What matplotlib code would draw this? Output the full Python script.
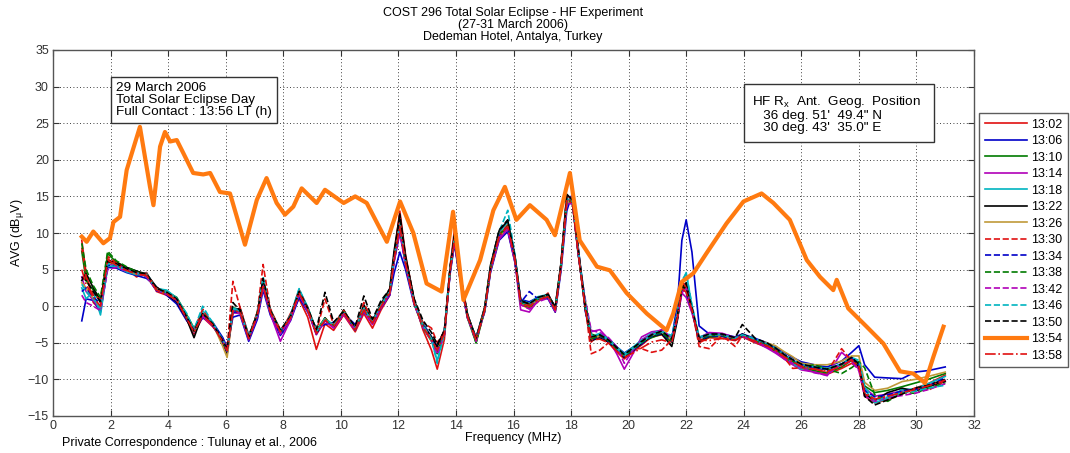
import numpy as np
import matplotlib
matplotlib.use("Agg")
import matplotlib.pyplot as plt

plt.rcParams['font.family'] = ['Liberation Sans', 'DejaVu Sans']
plt.rcParams['mathtext.fontset'] = 'custom'
plt.rcParams['mathtext.rm'] = 'Liberation Sans'
plt.rcParams['mathtext.it'] = 'Liberation Sans'

# ---------------- data ----------------
FREQ = [1.0, 1.15, 1.4, 1.65, 1.9, 2.2, 2.55, 2.9, 3.25, 3.6,
        3.95, 4.3, 4.65, 4.9, 5.2, 5.55, 5.9, 6.05, 6.25, 6.5,
        6.8, 7.1, 7.3, 7.55, 7.9, 8.25, 8.55, 8.85, 9.15, 9.45,
        9.75, 10.1, 10.5, 10.8, 11.1, 11.4, 11.7, 11.85, 12.05, 12.25,
        12.55, 12.85, 13.15, 13.35, 13.6, 13.8, 13.95, 14.1, 14.4, 14.7,
        15.0, 15.2, 15.5, 15.8, 16.05, 16.25, 16.55, 16.85, 17.2, 17.45,
        17.65, 17.85, 18.05, 18.25, 18.5, 18.7, 19.0, 19.3, 19.6, 19.85,
        20.15, 20.45, 20.8, 21.15, 21.5, 21.7, 21.85, 22.0, 22.2, 22.45,
        22.8, 23.25, 23.7, 23.95, 24.4, 24.8, 25.1, 25.4, 25.7, 26.0,
        26.45, 26.9, 27.4, 27.75, 28.0, 28.2, 28.55, 29.0, 29.5, 29.95,
        30.4, 31.0]

AVG_1302 = [9.0, 4.5, 0.5, -0.5, 6.5, 5.5, 5.2, 4.0, 4.6, 2.0,
            1.5, 0.5, -1.9, -3.8, -1.5, -2.8, -4.5, -6.5, -1.0, -0.2,
            -4.0, -1.6, 3.5, -0.3, -3.9, -1.0, 1.0, -1.5, -5.9, -2.4,
            -3.3, -1.2, -3.5, -1.0, -3.0, -0.5, 1.5, 6.8, 13.0, 7.0,
            0.8, -3.2, -6.0, -8.6, -4.5, 5.5, 10.5, 5.5, -1.0, -4.8,
            -0.2, 5.0, 9.5, 10.5, 6.2, 0.2, -0.3, 0.6, 1.8, -0.8,
            5.8, 15.0, 14.8, 7.8, -0.2, -4.9, -3.8, -5.0, -6.3, -7.2,
            -6.2, -5.3, -4.2, -3.9, -4.9, -1.5, 2.8, 2.2, -0.6, -5.0,
            -4.3, -4.4, -4.7, -4.2, -5.0, -5.6, -6.2, -7.2, -7.9, -8.5,
            -9.0, -9.3, -8.5, -7.8, -8.5, -12.3, -13.2, -12.8, -12.0, -11.2,
            -10.6, -9.4]
AVG_1306 = [-2.0, 1.0, 0.8, -0.8, 5.3, 5.2, 4.6, 4.2, 3.8, 2.6,
            1.5, 0.3, -2.0, -3.2, -1.6, -2.2, -4.3, -5.6, -1.5, -1.2,
            -4.8, -1.8, 2.2, -1.2, -4.0, -2.0, 1.2, -0.8, -3.0, -2.5,
            -2.2, -1.0, -2.5, -0.8, -1.8, -0.2, 1.5, 4.5, 7.4, 5.0,
            0.2, -2.3, -4.2, -5.5, -3.3, 4.5, 8.5, 4.6, -1.6, -4.2,
            -0.8, 4.6, 9.0, 10.2, 6.0, 0.9, 0.6, 1.2, 1.0, -0.8,
            4.8, 13.0, 15.5, 8.0, -0.8, -4.2, -4.3, -4.4, -5.6, -6.4,
            -5.6, -5.2, -3.8, -3.4, -4.4, 0.5, 9.0, 11.8, 7.4, -2.7,
            -3.8, -3.8, -4.2, -3.8, -4.4, -5.0, -5.6, -6.3, -7.0, -7.6,
            -8.0, -8.3, -7.5, -6.3, -5.4, -8.0, -9.7, -9.8, -9.9, -9.0,
            -8.8, -8.3]
AVG_1310 = [7.5, 3.5, 2.2, 0.5, 7.2, 6.0, 5.3, 4.8, 4.0, 2.5,
            2.0, 1.2, -1.2, -3.0, -1.3, -2.3, -5.0, -6.2, -0.2, -0.5,
            -4.5, -0.8, 3.2, -0.5, -3.2, -1.8, 2.0, -0.2, -3.3, -1.6,
            -2.9, -0.6, -3.3, -0.5, -2.4, 0.3, 2.0, 6.2, 10.5, 5.8,
            0.3, -2.9, -4.8, -6.5, -3.9, 4.8, 8.8, 4.8, -1.6, -5.0,
            -0.6, 4.8, 9.4, 10.8, 6.3, 0.3, -0.1, 0.8, 1.2, -0.6,
            5.2, 14.2, 14.0, 7.0, 0.5, -3.8, -4.2, -4.5, -5.7, -6.6,
            -5.7, -4.8, -4.3, -3.8, -4.9, -1.5, 2.3, 3.0, -0.2, -4.7,
            -4.2, -4.1, -4.3, -4.1, -4.9, -5.5, -6.1, -7.0, -7.7, -8.3,
            -8.8, -9.1, -8.3, -7.4, -7.6, -10.9, -11.8, -11.5, -11.0, -10.5,
            -10.0, -9.2]
AVG_1314 = [4.0, 2.0, 0.8, -0.5, 5.8, 5.5, 5.2, 4.6, 4.1, 2.1,
            1.9, 0.7, -1.8, -3.6, -1.4, -2.7, -4.6, -5.8, -0.9, -1.0,
            -4.6, -1.4, 2.6, -1.0, -4.8, -1.9, 1.6, -0.7, -3.9, -2.0,
            -3.0, -1.1, -3.3, -0.7, -2.5, -0.2, 1.6, 6.0, 10.0, 5.6,
            0.4, -2.5, -4.4, -6.3, -3.8, 4.9, 8.9, 4.9, -1.5, -4.6,
            -0.5, 4.9, 9.1, 10.6, 6.0, -0.5, -0.8, 0.8, 1.2, -0.6,
            5.3, 14.2, 14.5, 7.2, -0.6, -3.5, -3.2, -4.5, -6.6, -8.6,
            -6.5, -4.2, -3.5, -3.3, -4.5, -1.6, 1.8, 1.2, -0.9, -4.3,
            -3.6, -3.7, -4.3, -4.1, -4.9, -5.7, -6.4, -7.2, -8.0, -8.7,
            -9.0, -9.5, -6.3, -7.5, -8.6, -11.2, -12.3, -12.0, -11.6, -11.4,
            -10.8, -10.2]
AVG_1318 = [2.5, 1.0, 2.0, -1.2, 5.5, 5.4, 4.7, 4.3, 4.5, 2.4,
            2.2, 1.1, -1.4, -3.1, -0.6, -2.2, -5.2, -6.3, -0.3, -0.4,
            -3.9, -1.3, 3.3, -0.5, -3.6, -1.2, 2.3, -0.1, -3.4, -1.9,
            -2.6, -0.9, -2.9, -0.3, -2.0, 0.4, 2.2, 6.7, 11.3, 6.3,
            0.7, -2.4, -4.6, -7.5, -3.4, 5.3, 9.4, 5.3, -1.2, -4.3,
            -0.2, 5.3, 10.0, 11.5, 6.8, 0.8, 0.4, 1.3, 1.6, -0.2,
            5.7, 14.7, 14.4, 7.6, -0.2, -4.3, -3.7, -4.5, -5.6, -6.5,
            -5.6, -4.6, -3.7, -3.3, -4.4, -1.0, 3.0, 4.6, 0.0, -4.2,
            -3.8, -3.9, -4.4, -3.9, -4.5, -5.1, -5.8, -6.6, -7.8, -8.6,
            -8.2, -8.5, -7.9, -7.0, -7.8, -11.4, -13.2, -12.6, -11.4, -11.3,
            -10.6, -9.6]
AVG_1322 = [3.5, 4.5, 2.5, 0.8, 6.2, 6.0, 5.3, 4.8, 4.4, 2.6,
            1.6, 0.6, -1.8, -4.3, -1.0, -2.6, -5.0, -6.5, -0.6, -0.3,
            -4.4, -0.9, 3.3, -0.6, -3.5, -1.4, 2.1, -0.3, -3.8, -1.6,
            -2.8, -0.5, -3.2, 0.2, -2.0, 0.3, 2.4, 7.5, 12.6, 6.8,
            0.9, -2.6, -4.2, -5.6, -3.2, 5.4, 9.8, 5.4, -1.1, -4.4,
            -0.1, 5.6, 10.3, 11.7, 6.9, 0.8, 0.3, 1.1, 1.6, -0.1,
            5.9, 15.3, 14.5, 7.2, -0.5, -4.7, -4.3, -4.9, -6.0, -7.0,
            -6.1, -5.1, -4.1, -3.8, -5.5, -1.8, 2.6, 3.2, -0.3, -4.8,
            -4.1, -4.0, -4.6, -3.8, -4.6, -5.2, -5.8, -6.7, -7.4, -8.0,
            -8.4, -8.6, -8.0, -7.0, -8.3, -12.0, -12.9, -11.8, -11.2, -11.6,
            -11.0, -10.3]
AVG_1326 = [3.2, 2.5, 1.0, 0.0, 5.9, 5.8, 4.9, 4.4, 4.2, 2.2,
            1.7, 0.8, -1.5, -3.5, -1.2, -2.4, -5.5, -7.0, -0.7, -0.9,
            -4.2, -1.0, 2.8, -0.8, -3.3, -1.6, 1.8, -0.5, -3.5, -1.7,
            -2.6, -0.7, -3.0, -0.4, -2.3, 0.0, 1.8, 6.3, 10.6, 5.9,
            0.5, -2.8, -4.7, -6.1, -3.7, 5.0, 9.0, 5.0, -1.4, -4.7,
            -0.5, 5.0, 9.5, 10.8, 6.4, 0.4, 0.0, 0.9, 1.3, -0.5,
            5.4, 14.3, 14.1, 7.3, -0.3, -4.4, -4.1, -4.6, -5.8, -6.7,
            -5.8, -4.9, -4.0, -3.5, -4.6, -1.2, 2.6, 2.4, -0.5, -4.4,
            -4.0, -4.1, -4.5, -4.0, -4.6, -5.0, -5.4, -6.2, -6.9, -7.8,
            -8.0, -8.0, -7.5, -6.8, -6.8, -10.4, -11.5, -11.2, -10.3, -10.0,
            -9.6, -9.0]
AVG_1330 = [8.0, 4.0, 1.5, 1.0, 6.8, 5.9, 5.0, 4.6, 4.4, 2.4,
            1.9, 1.0, -1.7, -3.3, -0.4, -2.6, -4.8, -5.8, 3.4, -0.2,
            -4.1, -0.8, 5.7, -0.4, -3.3, -1.3, 2.2, -0.2, -3.5, 1.0,
            -2.5, -0.6, -3.0, 0.5, -2.1, 0.2, 1.9, 6.6, 12.0, 6.2,
            0.6, -2.2, -3.0, -5.0, -3.5, 5.2, 9.3, 5.2, -1.3, -4.4,
            -0.3, 5.2, 9.8, 11.1, 6.6, 0.6, 0.2, 1.0, 1.5, -0.3,
            5.6, 14.6, 14.3, 7.5, -0.3, -6.5, -6.0, -5.0, -5.8, -6.7,
            -5.8, -5.8, -6.3, -6.0, -4.6, -1.2, 3.5, 2.5, -0.3, -5.5,
            -5.8, -4.0, -5.5, -4.0, -5.0, -5.4, -6.0, -7.0, -8.5, -8.4,
            -8.6, -9.0, -5.8, -7.5, -8.2, -12.0, -12.8, -12.3, -11.8, -11.2,
            -11.5, -10.2]
AVG_1334 = [2.0, 2.5, 1.2, 0.4, 5.6, 5.6, 5.1, 4.5, 4.2, 2.1,
            1.8, 0.7, -1.5, -3.3, -1.2, -2.5, -4.9, -6.2, -0.8, -0.8,
            -4.2, -1.2, 2.9, -0.9, -3.5, -1.5, 1.8, -0.5, -3.7, -1.9,
            -2.8, -0.9, -3.0, -0.5, -2.3, -0.1, 1.7, 6.2, 10.3, 5.8,
            0.4, -2.8, -4.6, -6.0, -3.7, 4.9, 8.9, 5.0, -1.4, -4.6,
            -0.5, 5.0, 9.6, 10.9, 6.4, 0.5, 2.0, 1.0, 1.2, -0.5,
            5.4, 14.4, 14.1, 7.3, -0.5, -4.6, -4.1, -4.8, -6.0, -6.9,
            -6.0, -5.1, -4.1, -3.7, -4.8, -1.4, 2.4, 1.8, -0.5, -4.6,
            -4.1, -4.1, -4.6, -4.1, -4.5, -5.2, -5.8, -6.7, -7.4, -8.0,
            -8.4, -8.7, -8.0, -7.1, -8.0, -11.5, -12.4, -12.1, -11.6, -11.4,
            -10.9, -9.8]
AVG_1338 = [8.6, 5.0, 2.8, 1.2, 7.5, 6.2, 5.4, 4.7, 4.3, 2.3,
            1.8, 0.9, -1.6, -3.4, -1.1, -2.5, -4.8, -6.0, -0.5, -0.7,
            -4.3, -1.1, 3.0, -0.7, -3.4, -1.5, 1.9, -0.4, -3.6, -1.8,
            -2.7, -0.8, -3.1, -0.4, -2.2, 0.1, 1.9, 6.4, 10.8, 5.9,
            0.5, -2.7, -4.5, -6.4, -3.6, 5.1, 9.2, 5.1, -1.3, -5.0,
            -0.4, 5.1, 9.7, 11.0, 6.5, 0.5, 0.1, 1.0, 1.4, -0.4,
            5.5, 14.5, 14.2, 7.4, -0.4, -4.5, -4.0, -4.7, -5.9, -6.8,
            -5.9, -5.0, -4.0, -3.6, -4.7, -1.3, 2.5, 2.0, -0.4, -4.5,
            -4.0, -4.0, -4.5, -4.0, -4.7, -5.3, -5.9, -6.8, -7.5, -8.3,
            -8.0, -8.6, -9.2, -8.4, -7.6, -8.4, -12.1, -13.0, -11.8, -11.9,
            -11.2, -10.5]
AVG_1342 = [1.5, 0.5, 0.0, -0.6, 5.0, 5.3, 4.8, 4.6, 4.0, 2.2,
            1.6, 0.8, -1.7, -3.2, -1.3, -2.6, -4.7, -5.9, -0.6, -0.9,
            -4.4, -1.3, 2.8, -0.9, -3.8, -1.7, 1.7, -0.6, -3.8, -1.9,
            -2.9, -1.0, -3.2, -0.5, -2.4, -0.1, 1.7, 6.1, 10.2, 5.7,
            0.3, -2.9, -4.7, -6.6, -3.9, 4.8, 8.7, 4.8, -1.5, -4.8,
            -0.6, 4.8, 9.4, 10.5, 6.2, 0.2, -0.4, 0.6, 1.1, -0.7,
            5.2, 14.0, 14.0, 7.1, 0.8, -3.3, -3.6, -4.3, -5.6, -7.8,
            -6.0, -4.6, -3.8, -3.2, -4.3, -1.4, 1.8, 2.6, -0.7, -4.4,
            -3.8, -3.9, -4.4, -4.1, -4.8, -5.5, -6.2, -7.0, -7.8, -8.4,
            -9.1, -9.4, -7.8, -7.6, -8.8, -12.3, -13.0, -12.5, -12.2, -11.9,
            -11.4, -10.6]
AVG_1346 = [3.0, 2.0, 1.0, -0.2, 5.8, 5.6, 5.0, 4.5, 4.3, 2.3,
            1.9, 1.0, -1.0, -3.2, 0.0, -2.3, -4.6, -6.1, -0.4, -0.6,
            -4.2, -1.0, 4.0, -0.6, -3.3, -1.4, 2.4, -0.3, -3.5, -1.7,
            -2.6, -0.7, -3.0, -0.3, -2.1, 0.2, 2.0, 6.6, 11.2, 6.1,
            0.6, -2.6, -4.4, -7.8, -3.5, 5.2, 9.3, 5.2, -1.2, -4.4,
            -0.3, 5.3, 10.2, 13.1, 7.0, 0.6, 0.2, 1.1, 1.5, -0.3,
            5.6, 14.6, 14.3, 7.8, 0.2, -4.0, -3.8, -4.6, -5.8, -6.7,
            -5.8, -4.9, -3.9, -3.5, -4.0, -0.8, 3.5, 4.5, 0.2, -4.3,
            -3.9, -3.9, -4.4, -3.9, -4.5, -5.1, -5.7, -6.6, -7.3, -8.0,
            -8.3, -8.6, -7.9, -7.0, -7.4, -11.0, -12.9, -12.4, -11.8, -11.6,
            -11.2, -10.8]
AVG_1350 = [4.0, 3.5, 2.0, 0.6, 6.1, 5.8, 5.1, 4.6, 4.4, 2.4,
            1.9, 1.0, -1.5, -3.4, -1.0, -2.4, -4.7, -5.9, 0.5, -0.6,
            -4.2, -1.0, 3.8, -0.6, -3.3, -1.4, 2.0, -0.3, -3.2, 1.9,
            -2.2, -0.7, -2.8, 1.4, -1.8, 0.8, 2.3, 7.0, 12.3, 6.6,
            1.0, -1.9, -3.6, -5.2, -3.4, 5.3, 9.6, 5.3, -1.2, -4.4,
            -0.3, 5.4, 10.4, 11.8, 6.7, 0.7, 0.3, 1.2, 1.6, -0.2,
            5.7, 15.0, 14.6, 7.7, -0.2, -4.2, -3.9, -4.6, -5.7, -6.6,
            -5.7, -4.8, -3.9, -3.4, -4.5, -1.1, 2.7, 2.4, -0.2, -4.3,
            -3.8, -3.8, -4.3, -2.5, -4.4, -5.0, -5.7, -6.6, -7.3, -7.9,
            -8.3, -8.6, -7.9, -7.0, -7.9, -12.3, -13.5, -12.8, -12.0, -11.2,
            -10.8, -10.0]
AVG_1358 = [5.0, 3.0, 1.2, 0.0, 6.3, 5.6, 4.9, 4.4, 4.2, 2.2,
            1.7, 0.8, -1.7, -3.5, -1.2, -2.6, -4.9, -6.1, -0.6, -0.8,
            -4.4, -1.2, 2.9, -0.8, -3.5, -1.6, 1.8, -0.5, -3.7, -1.9,
            -2.8, -0.9, -3.2, -0.5, -2.3, 0.0, 1.8, 6.4, 10.9, 5.9,
            0.4, -2.8, -4.6, -6.0, -3.7, 5.0, 9.1, 5.0, -1.4, -4.6,
            -0.5, 5.0, 9.6, 10.9, 6.4, 0.4, 0.0, 0.9, 1.3, -0.5,
            5.4, 14.4, 14.1, 7.3, -0.5, -4.6, -4.5, -5.0, -6.2, -7.0,
            -6.4, -5.7, -4.9, -4.6, -5.0, -1.4, 2.4, 1.9, -0.5, -4.6,
            -4.7, -4.4, -4.6, -4.1, -4.8, -5.4, -6.0, -6.9, -7.6, -8.2,
            -8.6, -8.9, -8.2, -7.3, -8.2, -11.8, -12.7, -12.3, -11.8, -11.4,
            -10.9, -10.1]

# 13:54 (near full contact) has its own frequency samples
FREQ_1354 = [1.0, 1.17, 1.4, 1.75, 1.98, 2.1, 2.33, 2.56, 3.02, 3.37,
             3.49, 3.72, 3.89, 4.07, 4.3, 4.53, 4.87, 5.22, 5.46, 5.8,
             6.15, 6.67, 7.08, 7.42, 7.77, 8.06, 8.35, 8.64, 9.16, 9.45,
             10.1, 10.5, 10.9, 11.6, 12.06, 12.52, 12.98, 13.5, 13.9, 14.26,
             14.84, 15.3, 15.7, 16.1, 16.57, 17.15, 17.44, 17.96, 18.3, 18.9,
             19.35, 19.93, 20.63, 21.32, 21.55, 21.84, 22.25, 22.7, 23.4, 23.99,
             24.62, 25.03, 25.6, 26.19, 26.65, 27.11, 27.23, 27.63, 28.27, 28.85,
             29.43, 29.89, 30.3, 30.59, 30.94]
AVG_1354 = [9.5, 8.8, 10.2, 8.6, 9.3, 11.5, 12.2, 18.6, 24.5, 16.3,
            13.8, 21.8, 23.8, 22.5, 22.7, 20.9, 18.2, 18.0, 18.2, 15.6,
            15.4, 8.4, 14.5, 17.5, 14.1, 12.5, 13.6, 16.1, 14.1, 15.9,
            14.1, 15.0, 14.1, 8.8, 14.3, 10.0, 3.1, 2.0, 12.9, 0.85,
            6.3, 13.1, 16.3, 11.8, 13.8, 11.8, 9.7, 18.2, 9.0, 5.4,
            4.9, 1.8, -1.0, -3.3, -1.0, 3.3, 4.5, 7.2, 11.3, 14.3,
            15.4, 14.1, 11.8, 6.3, 4.0, 2.2, 3.6, -0.3, -2.8, -5.1,
            -8.9, -9.2, -10.5, -6.9, -2.8]

LABELS = ["13:02", "13:06", "13:10", "13:14", "13:18", "13:22", "13:26",
          "13:30", "13:34", "13:38", "13:42", "13:46", "13:50", "13:54", "13:58"]
X_TICKS = list(range(0, 33, 2))
Y_TICKS = list(range(-15, 36, 5))

# ---------------- styles ----------------
RED, BLUE, GREEN, MAG, CYAN, BLK, OLIVE = ("#e01010", "#0000c8", "#007a00",
                                           "#b000b8", "#00b4c0", "#000000", "#c09a3a")
ORANGE = "#ff7a10"

series = [
    (FREQ, AVG_1302, RED, "-"), (FREQ, AVG_1306, BLUE, "-"),
    (FREQ, AVG_1310, GREEN, "-"), (FREQ, AVG_1314, MAG, "-"),
    (FREQ, AVG_1318, CYAN, "-"), (FREQ, AVG_1322, BLK, "-"),
    (FREQ, AVG_1326, OLIVE, "-"), (FREQ, AVG_1330, RED, "--"),
    (FREQ, AVG_1334, BLUE, "--"), (FREQ, AVG_1338, GREEN, "--"),
    (FREQ, AVG_1342, MAG, "--"), (FREQ, AVG_1346, CYAN, "--"),
    (FREQ, AVG_1350, BLK, "--"), (FREQ_1354, AVG_1354, ORANGE, "-"),
    (FREQ, AVG_1358, RED, "-."),
]

FS = 9.0
FS_BOX = 9.7

fig = plt.figure(figsize=(10.70, 4.53), dpi=100)
ax = fig.add_axes([53 / 1070, 37 / 453, 921 / 1070, 366 / 453])

handles = []
for (fx, fy, col, ls), lab in zip(series, LABELS):
    assert len(fx) == len(fy), lab
    lw = 3.0 if lab == "13:54" else 1.2
    z = 3 if lab == "13:54" else 2
    h, = ax.plot(fx, fy, color=col, linestyle=ls, linewidth=lw, label=lab, zorder=z)
    handles.append(h)

ax.set_xlim(0, 32)
ax.set_ylim(-15, 35)
ax.set_xticks(X_TICKS)
ax.set_yticks(Y_TICKS)
ax.grid(True, linestyle=(0, (1, 3)), color="black", linewidth=0.6)
ax.tick_params(direction="in", top=True, right=True, labelsize=FS,
               length=4, width=0.8, colors="#333333", pad=3)
for s in ax.spines.values():
    s.set_color("#555555")
    s.set_linewidth(1.0)

ax.set_xlabel("Frequency (MHz)", fontsize=FS, labelpad=0)
ax.set_ylabel(r"AVG (dB$_{\mathrm{\mu}}$V)", fontsize=FS)
ax.yaxis.set_label_coords(-27 / 921, 0.5)

fig.text(513 / 1070, 1 - 25 / 453,
         "COST 296 Total Solar Eclipse - HF Experiment\n(27-31 March 2006)\nDedeman Hotel, Antalya, Turkey",
         ha="center", va="center", fontsize=FS, linespacing=1.0)

ax.text(116 / 1070, 1 - 100 / 453,
        "29 March 2006\nTotal Solar Eclipse Day\nFull Contact : 13:56 LT (h)",
        transform=fig.transFigure, ha="left", va="center", fontsize=FS_BOX,
        linespacing=1.0, zorder=5,
        bbox=dict(boxstyle="square,pad=0.35", facecolor="white", edgecolor="#333333", linewidth=1.0))

ax.text(752 / 1070, 1 - 114 / 453,
        "HF R$_{\\mathrm{x}}$  Ant.  Geog.  Position  \n   36 deg. 51'  49.4\" N\n   30 deg. 43'  35.0\" E",
        transform=fig.transFigure, ha="left", va="center", fontsize=FS_BOX,
        linespacing=1.0, zorder=5,
        bbox=dict(boxstyle="square,pad=0.6", facecolor="white", edgecolor="#333333", linewidth=1.0))

fig.text(62 / 1070, 1 - 443 / 453, "Private Correspondence : Tulunay et al., 2006",
         ha="left", va="center", fontsize=FS)

leg = fig.legend(handles=handles, labels=LABELS, loc="upper left",
                 bbox_to_anchor=(979 / 1070, 1 - 113 / 453), fontsize=FS,
                 frameon=True, fancybox=False, edgecolor="#333333",
                 handlelength=3.4, handletextpad=0.3, labelspacing=0.36,
                 borderpad=0.45, borderaxespad=0)
leg.get_frame().set_linewidth(1.0)

fig.savefig("out.png", dpi=100)
